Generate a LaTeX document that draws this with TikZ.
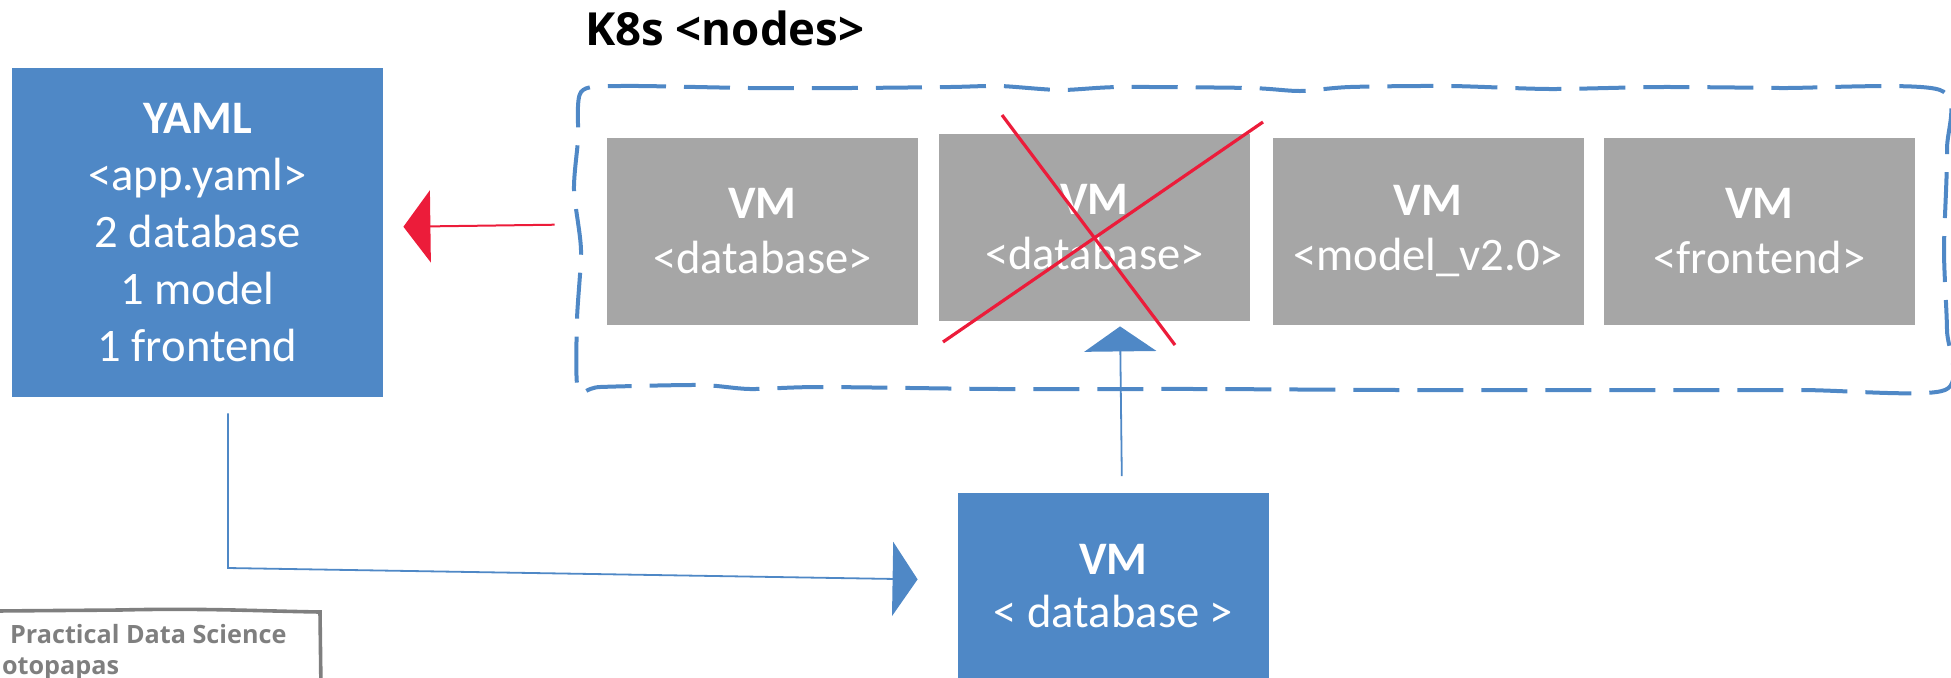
\documentclass[tikz,border=0pt]{standalone}
\usepackage{fontspec}
\setmainfont{Carlito}
\newfontfamily\headfont{Open Sans}
\usetikzlibrary{arrows.meta}
\definecolor{vmblue}{HTML}{4F88C6}
\definecolor{vmgray}{HTML}{A6A6A6}
\definecolor{killred}{HTML}{EC1C3A}
\definecolor{notegray}{HTML}{7F7F7F}
\tikzset{
	bluebox/.style={fill=vmblue,text=white,minimum width=155.5pt,minimum height=93.5pt,inner sep=0pt,align=center,font=\fontsize{23.3}{27.5}\selectfont},
	graybox/.style={bluebox,fill=vmgray},
	bluelink/.style={draw=vmblue,line width=0.9pt,-{Triangle[length=12.5pt,width=36pt]}},
	redlink/.style={draw=killred,line width=1pt,-{Triangle[length=13.5pt,width=36pt]}},
	crossline/.style={draw=killred,line width=1.6pt},
	cluster/.style={draw=vmblue,line width=2pt,dash pattern=on 23pt off 9pt}
}
\begin{document}
\begin{tikzpicture}[x=0.5pt,y=-0.5pt]
	\useasboundingbox (0,0) rectangle (1951,677);
	\node[anchor=base west,font=\headfont\bfseries\fontsize{22.8}{27}\selectfont] (k8s) at (578,45) {K8s <nodes>};
	\draw[cluster] plot[smooth cycle,tension=0.45] coordinates {(581,92) (620,86) (750,88) (850,88) (950,87) (1000,86) (1060,90) (1120,87) (1250,88) (1300,91) (1350,87) (1450,86) (1550,89) (1660,87) (1780,88) (1940,90) (1947,150) (1944,250) (1947,330) (1945,390) (1800,390) (1600,390) (1400,390) (1200,389) (1000,389) (820,387) (750,389) (700,385) (600,387) (578,390) (577,320) (581,250) (574,190) (578,140)};
	\node[bluebox,minimum width=185.5pt,minimum height=164.5pt,font=\fontsize{23.3}{28.5}\selectfont] (yaml) at (197.5,232.5) {{\bfseries YAML}\\<app.yaml>\\2 database\\1 model\\1 frontend};
	\node[graybox] (vm1) at (762.5,231.5) {{\bfseries VM}\\<database>};
	\node[graybox] (vm2) at (1094.5,227.5) {{\bfseries VM}\\<database>};
	\node[graybox] (vm3) at (1428,231.5) {{\bfseries VM}\\<model\_v2.0>};
	\node[graybox] (vm4) at (1759.5,231.5) {{\bfseries VM}\\<frontend>};
	\node[bluebox,font=\fontsize{23.3}{26.5}\selectfont] (vmnew) at (1113.5,586) {{\bfseries VM}\\< database >};
	\draw[crossline] (1002,115) -- (1175,345);
	\draw[crossline] (943,342) -- (1263,122);
	\draw[redlink,shorten <=26pt,shorten >=10pt] ([yshift=3.75pt]vm1.west) -- ([yshift=2.75pt]yaml.east);
	\draw[bluelink,shorten <=8pt,shorten >=2.5pt] ([xshift=4.25pt]vmnew.north) -- ([xshift=12.75pt]vm2.south);
	\coordinate (bend) at (228,568);
	\draw[bluelink,-{Triangle[length=12.5pt,width=37pt]},shorten >=20pt] ([xshift=15.25pt,yshift=-8pt]yaml.south) -- (bend) -- ([yshift=3pt]vmnew.west);
	\draw[notegray,line width=1.8pt] (-5,611) -- (120,610) .. controls (200,608) and (260,611) .. (320,612) -- (321,690);
	\node[anchor=base west,text=notegray,font=\headfont\bfseries\fontsize{12.6}{14}\selectfont] (course) at (3,643) {Practical Data Science};
	\node[anchor=base west,text=notegray,font=\headfont\bfseries\fontsize{12.6}{14}\selectfont] (author) at (-5,674) {otopapas};
\end{tikzpicture}
\end{document}
